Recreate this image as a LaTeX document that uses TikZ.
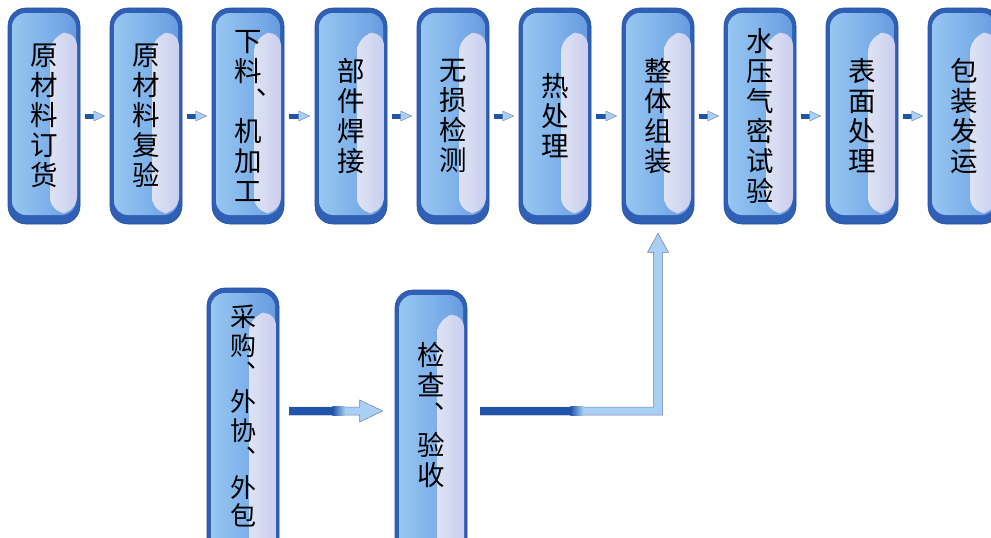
\documentclass[tikz,border=0pt]{standalone}
\usepackage{fontspec}
\newfontfamily\cjk{Noto Sans CJK SC}
\usetikzlibrary{calc}
\definecolor{rim}{HTML}{2F60B6}
\definecolor{rimdark}{HTML}{244E9E}
\definecolor{cA}{HTML}{4A7ED0}
\definecolor{cB}{HTML}{CDE8FA}
\definecolor{cC}{HTML}{96C5F0}
\definecolor{cD}{HTML}{80B3EB}
\definecolor{cE}{HTML}{4F84D4}
\definecolor{hlA}{HTML}{E8EBF8}
\definecolor{hlB}{HTML}{BCC3E9}
\definecolor{arrdark}{HTML}{1F54A8}
\definecolor{arrlight}{HTML}{A9CFF4}
\definecolor{arrline}{HTML}{6F80AA}
\pgfdeclarehorizontalshading{boxbody}{100bp}{color(0bp)=(cA); color(6bp)=(cC); color(14bp)=(cB); color(26bp)=(cC); color(50bp)=(cD); color(100bp)=(cE)}
\pgfdeclarehorizontalshading{boxhl}{100bp}{color(0bp)=(hlA); color(45bp)=(hlA!60!hlB); color(100bp)=(hlB)}
\begin{document}
\begin{tikzpicture}[x=1pt,y=-1pt,
  proc/.style={rounded corners=18pt, minimum width=72pt, minimum height=216pt,
    inner sep=0pt, fill=rim, draw=rimdark, line width=0.6pt,
    font=\cjk\fontsize{27.5}{30}\selectfont, align=center, text=black,
    path picture={
      \coordinate (NW) at (path picture bounding box.north west);
      \coordinate (SE) at (path picture bounding box.south east);
      \shade[rounded corners=14pt, shading=boxbody]
        ($(NW)+(4,5)$) rectangle ($(SE)+(-4,-9)$);
      \shade[rounded corners=16pt, shading=boxhl]
        ($(NW|-SE)+(42,-11)$) -- ($(NW)+(42,28)$) -- ($(SE|-NW)+(-3,22)$)
        -- ($(SE)+(-3,-11)$) -- cycle;
    }},
  lbl/.style={font=\cjk\fontsize{27.5}{30}\selectfont, align=center, text=black, inner sep=0pt}
]
\useasboundingbox (0,0) rectangle (991,538);
\clip (0,0) rectangle (991,538);
\fill[white] (0,0) rectangle (991,538);

% top row
\node[proc] (t1) at (44,116) {原\\材\\料\\订\\货};
\node[proc] (t2) at (146,116) {原\\材\\料\\复\\验};
\node[proc] (t3) at (248,116) {下\\料\\\hspace{10pt}︑\\机\\加\\工};
\node[proc] (t4) at (351,116) {部\\件\\焊\\接};
\node[proc] (t5) at (453,116) {无\\损\\检\\测};
\node[proc] (t6) at (555,116) {热\\处\\理};
\node[proc] (t7) at (658,116) {整\\体\\组\\装};
\node[proc] (t8) at (760,116) {水\\压\\气\\密\\试\\验};
\node[proc] (t9) at (862,116) {表\\面\\处\\理};
\node[proc] (t10) at (964,116) {包\\装\\发\\运};

% bottom row
\node[proc, minimum height=280pt] (bA) at (243,428) {};
\node[lbl, font=\cjk\fontsize{26}{28.4}\selectfont] (bAt) at (243,416) {采\\购\\︑\\外\\协\\︑\\外\\包};
\node[proc, minimum height=280pt] (bB) at (431,430) {};
\node[lbl] (bBt) at (431,415) {检\\查\\︑\\验\\收};

% small arrows between top boxes
\foreach \a/\b in {t1/t2,t2/t3,t3/t4,t4/t5,t5/t6,t6/t7,t7/t8,t8/t9,t9/t10}{
  \draw[arrdark, line width=5pt, shorten <=5pt, shorten >=16pt] (\a.east) -- (\b.west);
  \fill[arrlight, draw=arrline, line width=0.4pt]
    ($(\b.west)+(-16,-5)$) -- ($(\b.west)+(-5,0)$) -- ($(\b.west)+(-16,5)$) -- cycle;
}

% arrow A -> B
\coordinate (a1s) at ($(bA.east|-0,411)+(10,0)$);
\coordinate (a1e) at ($(bB.west|-0,411)+(-12,0)$);
\fill[arrlight, draw=arrline, line width=0.5pt]
  ($(a1s)+(0,-4)$) -- ($(a1e)+(-23,-4)$) -- ($(a1e)+(-23,-11)$) -- (a1e)
  -- ($(a1e)+(-23,11)$) -- ($(a1e)+(-23,4)$) -- ($(a1s)+(0,4)$) -- cycle;
\fill[arrdark] ($(a1s)+(-0.5,-4.3)$) rectangle ($(a1s)+(43,4.3)$);
\shade[left color=arrdark, right color=arrlight] ($(a1s)+(43,-4.3)$) rectangle ($(a1s)+(56,4.3)$);

% arrow B -> t7
\coordinate (a2s) at ($(bB.east|-0,411)+(13,0)$);
\coordinate (a2e) at ($(t7.south)+(0,9)$);
\fill[arrlight, draw=arrline, line width=0.5pt]
  ($(a2s)+(0,-4)$) -- ($(a2e|-a2s)+(-4.5,-4)$) -- ($(a2e)+(-4.5,19)$) -- ($(a2e)+(-10.5,19)$)
  -- (a2e) -- ($(a2e)+(10.5,19)$) -- ($(a2e)+(4.5,19)$) -- ($(a2e|-a2s)+(4.5,4)$)
  -- ($(a2s)+(0,4)$) -- cycle;
\fill[arrdark] ($(a2s)+(-0.5,-4.3)$) rectangle ($(a2s)+(90,4.3)$);
\shade[left color=arrdark, right color=arrlight] ($(a2s)+(90,-4.3)$) rectangle ($(a2s)+(103,4.3)$);
\end{tikzpicture}
\end{document}
